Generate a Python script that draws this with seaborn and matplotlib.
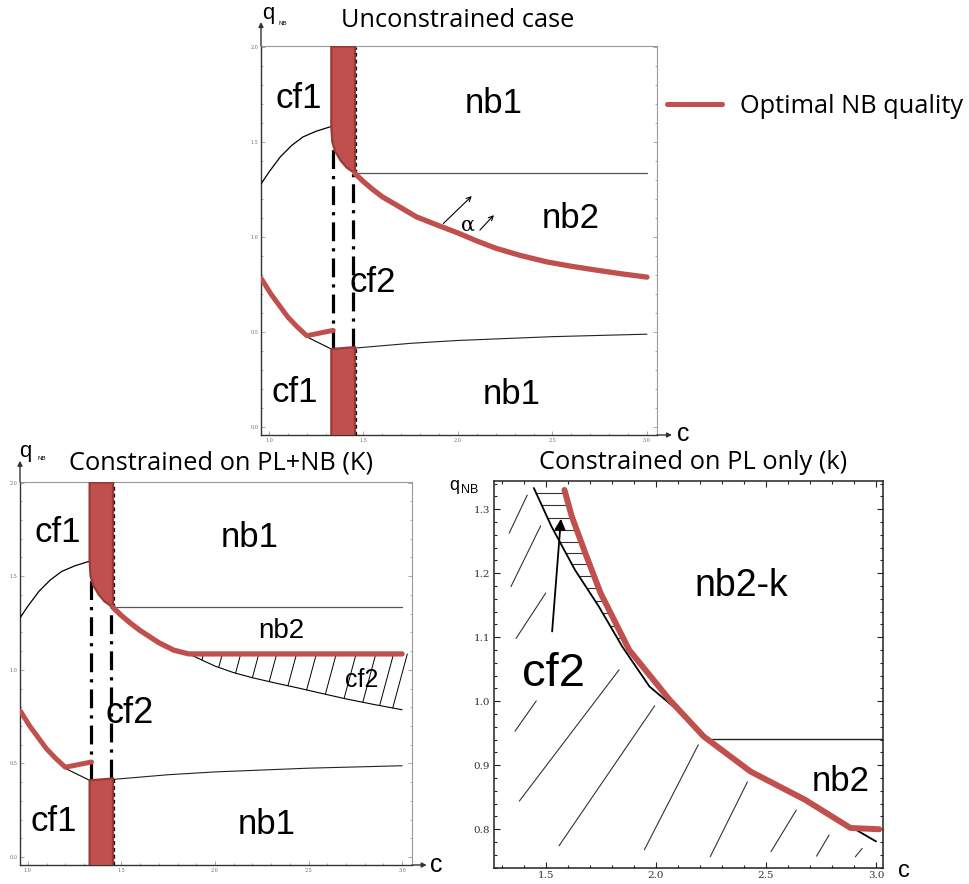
import numpy as np
import matplotlib
matplotlib.use("Agg")
import matplotlib.pyplot as plt
from matplotlib.lines import Line2D
from matplotlib.ticker import MultipleLocator, FormatStrFormatter
import seaborn as sns

# ---------------- data ----------------
# panels with q from 0 to 2
cf1_upper_c = [0.96, 1.00, 1.06, 1.12, 1.18, 1.25, 1.33]
cf1_upper_q = [1.28, 1.34, 1.42, 1.48, 1.525, 1.555, 1.58]
block_c = [1.33, 1.455]
block_top_q = 2.0
block_low_top_q = [0.41, 0.42]
cf2_edge_c = [1.33, 1.335, 1.35, 1.38, 1.41, 1.455]
cf2_edge_q = [1.58, 1.50, 1.45, 1.40, 1.365, 1.333]
nb2_curve_c = [1.455, 1.50, 1.55, 1.60, 1.70, 1.78, 1.90, 2.00, 2.10, 2.20, 2.33, 2.47, 2.60, 2.73, 2.86, 3.00]
nb2_curve_q = [1.333, 1.29, 1.248, 1.21, 1.152, 1.105, 1.058, 1.02, 0.978, 0.94, 0.902, 0.868, 0.845, 0.825, 0.806, 0.788]
nb1_nb2_c = [1.455, 3.00]
nb1_nb2_q = [1.333, 1.333]
low_left_c = [1.20, 1.33]
low_left_q = [0.474, 0.41]
low_right_c = [1.455, 1.75, 2.00, 2.50, 3.00]
low_right_q = [0.415, 0.44, 0.455, 0.475, 0.488]
opt_low_c = [0.96, 1.01, 1.06, 1.10, 1.15, 1.20, 1.34]
opt_low_q = [0.78, 0.70, 0.632, 0.578, 0.526, 0.48, 0.508]
dashdot_c = [1.34, 1.445]
dashdot_top_q = [1.50, 1.333]
dashdot_bot_q = [0.41, 0.42]

# constrained on PL+NB (K)
optK_c = [1.455, 1.50, 1.55, 1.60, 1.70, 1.78, 1.86, 3.00]
optK_q = [1.333, 1.29, 1.248, 1.21, 1.145, 1.105, 1.085, 1.085]
Kbound_c = [1.86, 2.00, 2.10, 2.20, 2.33, 2.45, 2.58, 2.70, 2.85, 3.00]
Kbound_q = [1.085, 1.02, 0.985, 0.958, 0.928, 0.902, 0.872, 0.845, 0.815, 0.787]
K_hatch_c = [1.93, 2.02, 2.11, 2.20, 2.29, 2.39, 2.49, 2.59, 2.69, 2.79, 2.88, 2.95]

# constrained on PL only (k)
kb_c = [1.446, 1.526, 1.633, 1.741, 1.848, 1.971, 2.078, 2.22, 2.43, 2.68, 2.88, 3.00]
kb_q = [1.333, 1.273, 1.205, 1.148, 1.085, 1.023, 0.992, 0.945, 0.89, 0.846, 0.805, 0.781]
optk_c = [1.585, 1.618, 1.68, 1.749, 1.879, 2.063, 2.217, 2.431, 2.678, 2.884, 3.015]
optk_q = [1.33, 1.289, 1.231, 1.169, 1.08, 1.002, 0.945, 0.89, 0.846, 0.802, 0.80]
nb2k_flat_c = [2.232, 3.034]
nb2k_flat_q = [0.941, 0.941]
hatch_levels = [1.325, 1.306, 1.286, 1.268, 1.249, 1.231, 1.215, 1.195,
                1.177, 1.156, 1.138, 1.117, 1.098]
slant_c0 = [1.334, 1.342, 1.365, 1.360, 1.380, 1.560, 1.948, 2.247, 2.523, 2.730, 2.906]
slant_q0 = [1.2625, 1.179, 1.098, 0.953, 0.844, 0.774, 0.768, 0.757, 0.765, 0.758, 0.757]
slant_c1 = [1.416, 1.477, 1.500, 1.457, 1.833, 1.995, 2.193, 2.416, 2.638, 2.787, 2.937]
slant_q1 = [1.322, 1.274, 1.169, 1.0005, 1.049, 0.993, 0.932, 0.874, 0.830, 0.791, 0.770]

top_ticks = [1.0, 1.5, 2.0, 2.5, 3.0]
q_ticks = [0.0, 0.5, 1.0, 1.5, 2.0]
k_xticks = [1.5, 2.0, 2.5, 3.0]
k_yticks = [0.8, 0.9, 1.0, 1.1, 1.2, 1.3]

# ---------------- style ----------------
sns.set_theme(style="white")
plt.rcParams['font.family'] = ['Liberation Sans', 'DejaVu Sans']
plt.rcParams['text.color'] = 'black'

RED = "#C0504D"
RED_EDGE = "#9A3A37"
TITLE_FONT = 'Open Sans'
TITLE_SIZE = 18.3
W, H = 970, 884
fig = plt.figure(figsize=(W / 100, H / 100), dpi=100)
fig.patch.set_facecolor("white")


def px_axes(left, top, right, bottom):
    return fig.add_axes([left / W, 1 - bottom / H, (right - left) / W, (bottom - top) / H])


def ftext(x, y, s, **kw):
    kw.setdefault('color', 'black')
    fig.text(x / W, 1 - y / H, s, **kw)


def line(ax, c, q, **kw):
    sns.lineplot(x=c, y=q, ax=ax, sort=False, estimator=None, legend=False, **kw)


def label(ax, c, q, s, size, **kw):
    ax.text(c, q, s, fontsize=size, ha='center', va='baseline',
            family='Liberation Sans', color='black', zorder=8, **kw)


def region_panel(ax, constrained):
    ax.set_xlim(0.958, 3.053)
    ax.set_ylim(-0.042, 2.003)
    ax.set_facecolor("white")
    # thin boundaries
    line(ax, cf1_upper_c, cf1_upper_q, color='black', lw=0.9, zorder=3)
    line(ax, nb1_nb2_c, nb1_nb2_q, color='#555555', lw=0.9, zorder=3)
    line(ax, low_left_c, low_left_q, color='black', lw=0.8, zorder=3)
    line(ax, low_right_c, low_right_q, color='#222222', lw=0.8, zorder=3)
    # dash-dot separators
    for c, t, b in zip(dashdot_c, dashdot_top_q, dashdot_bot_q):
        ax.plot([c, c], [b, t], color='black', lw=2.3, dashes=(5.9, 2.2, 1.0, 2.2),
                solid_capstyle='butt', dash_capstyle='butt', zorder=3)
    # red blocks
    poly_c = [block_c[0], block_c[1]] + cf2_edge_c[::-1]
    poly_q = [block_top_q, block_top_q] + cf2_edge_q[::-1]
    ax.fill(poly_c, poly_q, facecolor=RED, edgecolor=RED_EDGE, lw=1.6, zorder=4)
    low_c = [block_c[0], block_c[1], block_c[1], block_c[0]]
    low_q = [-0.05, -0.05, block_low_top_q[1], block_low_top_q[0]]
    ax.fill(low_c, low_q, facecolor=RED, edgecolor=RED_EDGE, lw=1.6, zorder=4)
    ax.plot([block_c[1] + 0.004] * 2, [cf2_edge_q[-1], block_top_q], color='black', lw=0.9,
            dashes=(3, 2.5), zorder=4)
    ax.plot([block_c[1] + 0.004] * 2, [-0.04, block_low_top_q[1]], color='black', lw=0.9,
            dashes=(3, 2.5), zorder=4)
    # optimal quality (red)
    line(ax, opt_low_c, opt_low_q, color=RED, lw=3.6, zorder=5)
    if not constrained:
        line(ax, nb2_curve_c, nb2_curve_q, color=RED, lw=3.8, zorder=5)
    else:
        line(ax, Kbound_c, Kbound_q, color='black', lw=0.8, zorder=3)
        for c0 in K_hatch_c:
            q0 = np.interp(c0, Kbound_c, Kbound_q)
            dq = optK_q[-1] - q0
            ax.plot([c0, c0 + 0.27 * dq], [q0, optK_q[-1]], color='black', lw=0.7, zorder=3)
        line(ax, optK_c, optK_q, color=RED, lw=3.8, zorder=5)

    # axes style
    ax.set_xticks(top_ticks)
    ax.set_yticks(q_ticks)
    ax.xaxis.set_minor_locator(MultipleLocator(0.1))
    ax.yaxis.set_minor_locator(MultipleLocator(0.1))
    ax.xaxis.set_major_formatter(FormatStrFormatter('%.1f'))
    ax.yaxis.set_major_formatter(FormatStrFormatter('%.1f'))
    ax.tick_params(which='both', direction='in', left=True, bottom=True, right=True,
                   top=False, color='#888888', width=0.5)
    ax.tick_params(which='major', length=3, labelsize=3.5, labelcolor='#666666', pad=2)
    ax.tick_params(which='minor', length=1.5)
    for lab in ax.get_xticklabels() + ax.get_yticklabels():
        lab.set_family('DejaVu Serif')
    for s in ['left', 'bottom']:
        ax.spines[s].set_color('#333333')
        ax.spines[s].set_linewidth(1.0)
    for s in ['top', 'right']:
        ax.spines[s].set_color('#999999')
        ax.spines[s].set_linewidth(0.8)


def axis_arrows(ax, ytip, xtip):
    kw = dict(arrowstyle='-|>', color='#333333', lw=1.0, mutation_scale=7,
              shrinkA=0, shrinkB=0)
    ax.annotate('', xy=(0, ytip), xytext=(0, 1.0), xycoords='axes fraction',
                arrowprops=kw, annotation_clip=False)
    ax.annotate('', xy=(xtip, 0), xytext=(1.0, 0), xycoords='axes fraction',
                arrowprops=kw, annotation_clip=False)


# ---------------- top panel: unconstrained ----------------
ax1 = px_axes(261, 46, 657, 435)
region_panel(ax1, constrained=False)
axis_arrows(ax1, (435 - 22) / 389, (672 - 261) / 396)
label(ax1, 1.160, 1.676, 'cf1', 25)
label(ax1, 2.190, 1.649, 'nb1', 25)
label(ax1, 2.596, 1.044, 'nb2', 25)
label(ax1, 1.548, 0.711, 'cf2', 25)
label(ax1, 1.138, 0.132, 'cf1', 25)
label(ax1, 2.284, 0.123, 'nb1', 25)
ax1.text(2.055, 1.035, 'α', fontsize=15, family='DejaVu Serif', ha='center',
         va='baseline', zorder=8, color='black')
akw = dict(arrowstyle='->', color='black', lw=0.8, mutation_scale=8, shrinkA=0, shrinkB=0)
ax1.annotate('', xy=(2.073, 1.214), xytext=(1.923, 1.07), arrowprops=akw)
ax1.annotate('', xy=(2.19, 1.114), xytext=(2.116, 1.035), arrowprops=akw)

ftext(458, 26.7, 'Unconstrained case', fontsize=TITLE_SIZE, family=TITLE_FONT,
      ha='center', va='baseline')
ftext(268, 19.5, 'q', fontsize=16, ha='center', va='baseline')
ftext(283, 25, 'NB', fontsize=4.5, ha='center', va='baseline')
ftext(677, 441, 'c', fontsize=18, ha='left', va='baseline')

# legend
fig.add_artist(Line2D([666.7 / W, 722.3 / W], [1 - 104.3 / H] * 2, color=RED, lw=3.6))
ftext(740, 113.3, 'Optimal NB quality', fontsize=TITLE_SIZE, family=TITLE_FONT,
      ha='left', va='baseline')

# ---------------- bottom-left: constrained K ----------------
ax2 = px_axes(20, 482, 412, 865)
region_panel(ax2, constrained=True)
axis_arrows(ax2, (865 - 460.7) / 383, (426.7 - 20) / 392)
label(ax2, 1.158, 1.684, 'cf1', 25)
label(ax2, 2.186, 1.654, 'nb1', 25)
label(ax2, 2.356, 1.169, 'nb2', 20)
label(ax2, 2.785, 0.908, 'cf2', 18)
label(ax2, 1.544, 0.716, 'cf2', 26)
label(ax2, 1.136, 0.139, 'cf1', 25)
label(ax2, 2.277, 0.126, 'nb1', 25)
ftext(221, 469.3, 'Constrained on PL+NB (K)', fontsize=TITLE_SIZE, family=TITLE_FONT,
      ha='center', va='baseline')
ftext(25, 457, 'q', fontsize=16, ha='center', va='baseline')
ftext(41.7, 460, 'NB', fontsize=4.5, ha='center', va='baseline')
ftext(430, 871.5, 'c', fontsize=18, ha='left', va='baseline')

# ---------------- bottom-right: constrained k ----------------
ax3 = px_axes(494, 481, 883.5, 868.3)
ax3.set_xlim(1.265, 3.034)
ax3.set_ylim(0.739, 1.344)
ax3.set_facecolor('white')
for q in hatch_levels:
    cl = np.interp(q, kb_q[::-1], kb_c[::-1])
    cr = np.interp(q, optk_q[::-1], optk_c[::-1])
    ax3.plot([cl, cr], [q, q], color='#333333', lw=0.8, zorder=2)
for c0, q0, c1, q1 in zip(slant_c0, slant_q0, slant_c1, slant_q1):
    ax3.plot([c0, c1], [q0, q1], color='#333333', lw=0.8, zorder=2)
line(ax3, nb2k_flat_c, nb2k_flat_q, color='#222222', lw=1.0, zorder=3)
line(ax3, kb_c, kb_q, color='black', lw=1.3, zorder=3)
line(ax3, optk_c, optk_q, color=RED, lw=4.3, zorder=5)
ax3.annotate('', xy=(1.569, 1.285), xytext=(1.529, 1.109),
             arrowprops=dict(arrowstyle='-|>', color='black', lw=1.3, mutation_scale=16,
                             shrinkA=0, shrinkB=0))
label(ax3, 1.534, 1.024, 'cf2', 34)
label(ax3, 2.386, 1.165, 'nb2-k', 27)
label(ax3, 2.838, 0.860, 'nb2', 25)

ax3.set_xticks(k_xticks)
ax3.set_yticks(k_yticks)
ax3.xaxis.set_minor_locator(MultipleLocator(0.1))
ax3.yaxis.set_minor_locator(MultipleLocator(0.02))
ax3.xaxis.set_major_formatter(FormatStrFormatter('%.1f'))
ax3.yaxis.set_major_formatter(FormatStrFormatter('%.1f'))
ax3.tick_params(which='both', direction='in', left=True, bottom=True, right=True, top=True,
                color='#222222', width=0.8)
ax3.tick_params(which='major', length=4, labelsize=7.5, labelcolor='#333333', pad=3)
ax3.tick_params(axis='x', which='major', pad=2)
ax3.tick_params(which='minor', length=2)
for lab in ax3.get_xticklabels() + ax3.get_yticklabels():
    lab.set_family('DejaVu Serif')
for s in ax3.spines.values():
    s.set_color('#222222')
    s.set_linewidth(1.1)

ftext(693.5, 469.3, 'Constrained on PL only (k)', fontsize=TITLE_SIZE, family=TITLE_FONT,
      ha='center', va='baseline')
ftext(449, 490, 'q', fontsize=13, ha='left', va='baseline')
ftext(461, 493, 'NB', fontsize=9, ha='left', va='baseline')
ftext(898, 877.3, 'c', fontsize=17, ha='left', va='baseline')

fig.savefig('out.png', dpi=100, facecolor='white')
